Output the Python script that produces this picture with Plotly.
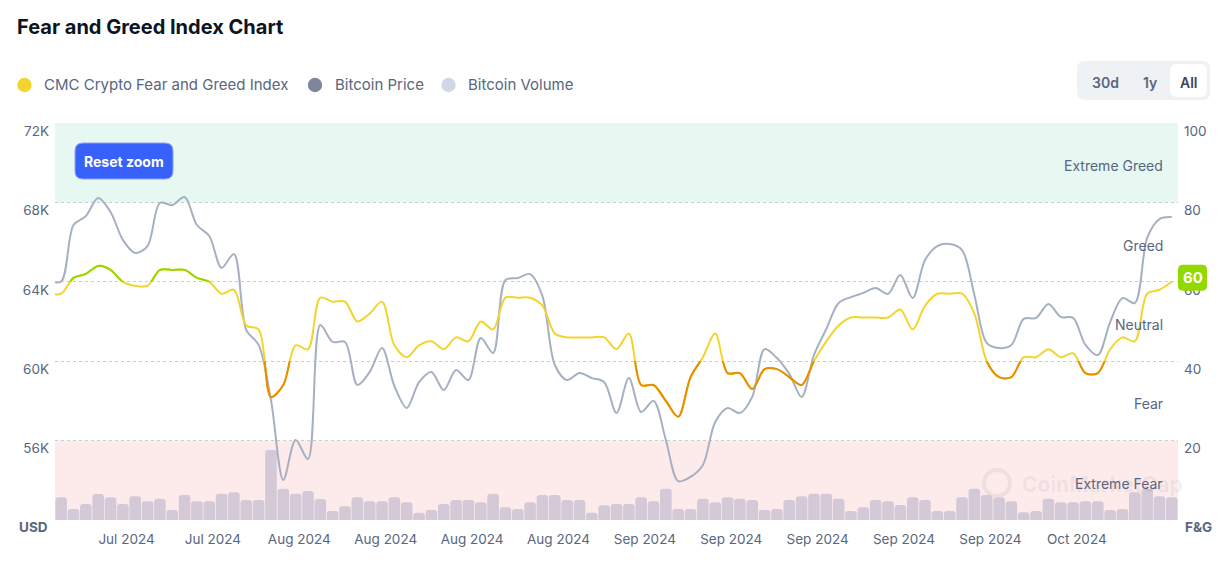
import pandas as pd
import plotly.graph_objects as go

# ---------------- data ----------------
DATES = pd.date_range("2024-07-17", periods=92, freq="D")

PRICE_USD = [64040, 64020, 66860, 67310, 68220, 67520, 66110, 65450, 65800, 67970,
             67870, 68270, 66860, 66310, 64700, 65400, 61570, 60820, 58050, 54020,
             56030, 55070, 61820, 60970, 60970, 58800, 59460, 60660, 58750, 57640,
             58950, 59460, 58550, 59560, 59050, 61170, 60410, 64090, 64190, 64390,
             63280, 59810, 59050, 59410, 59150, 58950, 57390, 59150, 57440, 58000,
             56030, 53960, 54170, 54770, 56940, 57640, 57390, 58200, 60610, 60160,
             59360, 58200, 60310, 61620, 62930, 63230, 63440, 63690, 63390, 64340,
             63180, 65100, 65800, 65900, 65600, 63340, 60920, 60660, 60820, 62130,
             62180, 62880, 62230, 62180, 60820, 60310, 61970, 63180, 62930, 66210,
             67160, 67260]

FEAR_GREED = [57, 57, 61, 62, 64, 63, 60, 59, 59, 63,
              63, 63, 61, 60, 57, 58, 49, 48, 31, 34,
              44, 43, 56, 55, 55, 50, 52, 55, 44, 41,
              44, 45, 43, 46, 45, 50, 48, 56, 56, 56,
              54, 47, 46, 46, 46, 46, 43, 47, 34, 34,
              30, 26, 36, 41, 47, 37, 37, 33, 38, 38,
              36, 34, 40, 45, 49, 51, 51, 51, 51, 53,
              48, 54, 57, 57, 57, 52, 40, 36, 36, 41,
              41, 43, 41, 42, 37, 37, 43, 46, 45, 57,
              58, 60]

VOLUME_BN_USD = [None, 34.1, 16.5, 24, 39, 34.1, 24, 35.6, 28.1, 32,
                 15, 37.5, 28.1, 28.1, 39.5, 41.6, 30, 30, 105, 47,
                 39.5, 43.5, 31.5, 13.5, 20.6, 34.1, 28.1, 28.1, 34.1, 26.6,
                 11, 15, 24, 30, 30, 26.6, 39.5, 19.1, 16.5, 26.6,
                 37.5, 37.5, 30, 30, 11, 22.1, 24, 24, 34.1, 28.1,
                 47, 16.5, 16.5, 32, 26.6, 34.1, 32, 30, 15, 16.5,
                 30, 35.6, 39.5, 39.5, 32, 13.5, 19.1, 30, 28.1, 22.5,
                 34.1, 30, 13.5, 13.5, 34.1, 47, 37.5, 34.1, 28.1, 11.6,
                 13.5, 32, 26.6, 26.6, 28.1, 28.1, 15, 16.5, 41.6, 47,
                 35.6, 34.1]

PRICE_TICKS = [52000, 56000, 60000, 64000, 68000, 72000]
PRICE_TICK_TEXT = ["", "56K", "60K", "64K", "68K", "72K"]
FG_TICKS = [0, 20, 40, 60, 80, 100]
FG_TICK_TEXT = ["", "20", "40", "60", "80", "100"]
WEEK_TICKS = pd.date_range("2024-07-22", "2024-10-07", freq="7D")
ZONE_LABELS = [("Extreme Greed", 90), ("Greed", 70), ("Neutral", 50),
               ("Fear", 30), ("Extreme Fear", 10)]
LEGEND_ITEMS = [("CMC Crypto Fear and Greed Index", "#F3D42F"),
                ("Bitcoin Price", "#7D879B"),
                ("Bitcoin Volume", "#CFD6E4")]
RANGE_BUTTONS = ["30d", "1y", "All"]

# ---------------- styling ----------------
FONT = "Inter, Noto Sans, sans-serif"
TXT = "#58667E"
YELLOW, ORANGE, GREEN = "#F3D42F", "#EA8C00", "#93D900"
L, R, T, B = 55, 50, 123, 56
W, H = 1228 - L - R, 576 - T - B


def fx(X):
    return (X - L) / W


def fy(Y):
    return (T + H - Y) / H


def rrect(x0, y0, x1, y1, r):
    pts = [("M", [(x0 + r, y0)]), ("L", [(x1 - r, y0)]), ("Q", [(x1, y0), (x1, y0 + r)]),
           ("L", [(x1, y1 - r)]), ("Q", [(x1, y1), (x1 - r, y1)]), ("L", [(x0 + r, y1)]),
           ("Q", [(x0, y1), (x0, y1 - r)]), ("L", [(x0, y0 + r)]), ("Q", [(x0, y0), (x0 + r, y0)])]
    s = ""
    for cmd, ps in pts:
        s += cmd + " " + " ".join(f"{fx(a):.5f},{fy(b):.5f}" for a, b in ps) + " "
    return s + "Z"


fig = go.Figure()

fig.add_trace(go.Bar(x=DATES, y=VOLUME_BN_USD, yaxis="y", name="Bitcoin Volume",
                     marker=dict(color="#D4C9D7", line=dict(width=0)),
                     showlegend=False, hoverinfo="skip"))
fig.add_trace(go.Scatter(x=DATES, y=PRICE_USD, yaxis="y2", mode="lines", name="Bitcoin Price",
                         line=dict(color="#A6B0C3", width=2, shape="spline", smoothing=0.9,
                                   simplify=False),
                         showlegend=False, hoverinfo="skip"))
for axis, color in [("y3", YELLOW), ("y4", ORANGE), ("y5", GREEN)]:
    fig.add_trace(go.Scatter(x=DATES, y=FEAR_GREED, yaxis=axis, mode="lines",
                             name="CMC Crypto Fear and Greed Index",
                             line=dict(color=color, width=2, shape="spline", smoothing=0.9,
                                       simplify=False),
                             showlegend=False, hoverinfo="skip"))

tickfont = dict(family=FONT, size=13.5, color=TXT)
fig.update_layout(
    width=1228, height=576,
    margin=dict(l=L, r=R, t=T, b=B),
    paper_bgcolor="white", plot_bgcolor="rgba(0,0,0,0)",
    showlegend=False, bargap=0.06, barcornerradius=3,
    font=dict(family=FONT, color=TXT),
    title=dict(text="Fear and Greed Index Chart", x=17 / 1228, xanchor="left",
               y=1 - 27 / 576, yanchor="middle", xref="container", yref="container",
               font=dict(family=FONT, size=20, color="#0D1421", weight=700)),
    xaxis=dict(type="date", range=["2024-07-17 12:00", "2024-10-16 12:00"],
               showgrid=False, zeroline=False, showline=False, ticks="",
               tickvals=list(WEEK_TICKS), tickformat="%b %Y", ticklabelshift=16,
               ticklabelstandoff=9, tickfont=tickfont),
    yaxis=dict(range=[0, 595.5], visible=False),
    yaxis2=dict(overlaying="y", side="left", range=[52000, 72000],
                tickvals=PRICE_TICKS, ticktext=PRICE_TICK_TEXT,
                showgrid=True, gridcolor="#C9CCD2", griddash="dot", gridwidth=1,
                zeroline=False, showline=False, ticks="", ticklabelshift=8,
                ticklabelstandoff=5, tickfont=tickfont),
    yaxis3=dict(overlaying="y", side="right", range=[0, 100],
                tickvals=FG_TICKS, ticktext=FG_TICK_TEXT, showgrid=False,
                zeroline=False, showline=False, ticks="", ticklabelshift=8,
                ticklabelstandoff=5, tickfont=tickfont),
    yaxis4=dict(domain=[0, 0.4], range=[0, 40], anchor="x", visible=False),
    yaxis5=dict(domain=[0.6, 1], range=[60, 100], anchor="x", visible=False),
)

shapes = [
    dict(type="rect", xref="paper", yref="y3", x0=0, x1=1, y0=80, y1=100,
         fillcolor="#E6F8F1", line=dict(width=0), layer="below"),
    dict(type="rect", xref="paper", yref="y3", x0=0, x1=1, y0=0, y1=20,
         fillcolor="#FDEBEC", line=dict(width=0), layer="below"),
]
annotations = []

# zone labels
for label, val in ZONE_LABELS:
    annotations.append(dict(text=label, xref="paper", yref="y3", x=1, y=val,
                            xanchor="right", yanchor="middle", xshift=-13, yshift=-3,
                            showarrow=False, font=dict(family=FONT, size=14, color=TXT)))

# axis unit labels
annotations.append(dict(text="<b>USD</b>", xref="paper", yref="paper", x=fx(49.5), y=fy(527),
                        xanchor="right", yanchor="middle", showarrow=False,
                        font=dict(family=FONT, size=13.5, color=TXT)))
annotations.append(dict(text="<b>F&G</b>", xref="paper", yref="paper", x=fx(1183), y=fy(527),
                        xanchor="left", yanchor="middle", showarrow=False,
                        font=dict(family=FONT, size=13.5, color=TXT)))

# legend (manual, circle markers)
LEG_Y = 85
legend_pos = [(24.5, 41.5), (315, 332.5), (448.5, 466)]
for (name, color), (cx, tx) in zip(LEGEND_ITEMS, legend_pos):
    shapes.append(dict(type="circle", xref="paper", yref="paper",
                       x0=fx(cx - 7.2), x1=fx(cx + 7.2), y0=fy(LEG_Y + 7.2), y1=fy(LEG_Y - 7.2),
                       fillcolor=color, line=dict(width=0)))
    annotations.append(dict(text=name, xref="paper", yref="paper", x=fx(tx), y=fy(LEG_Y),
                            xanchor="left", yanchor="middle", showarrow=False,
                            font=dict(family=FONT, size=15, color=TXT)))

# range buttons
shapes.append(dict(type="path", xref="paper", yref="paper", path=rrect(1077, 61, 1210, 100, 8),
                   fillcolor="#EFF2F5", line=dict(width=0)))
shapes.append(dict(type="path", xref="paper", yref="paper", path=rrect(1170, 64, 1207, 97, 7),
                   fillcolor="white", line=dict(width=0)))
for label, cx in zip(RANGE_BUTTONS, [1105, 1150, 1189]):
    annotations.append(dict(text=label, xref="paper", yref="paper", x=fx(cx), y=fy(82),
                            xanchor="center", yanchor="middle", showarrow=False,
                            font=dict(family=FONT, size=14,
                                      color="#3E4656" if label == "All" else TXT, weight=600)))

# reset zoom button
shapes.append(dict(type="path", xref="paper", yref="paper", path=rrect(75, 143, 173, 179, 8),
                   fillcolor="#3861FB", line=dict(color="#8EA2F0", width=1)))
annotations.append(dict(text="Reset zoom", xref="paper", yref="paper", x=fx(124), y=fy(161),
                        xanchor="center", yanchor="middle", showarrow=False,
                        font=dict(family=FONT, size=14, color="white", weight=700)))

# watermark
shapes.append(dict(type="circle", xref="paper", yref="paper",
                   x0=fx(984), x1=fx(1010), y0=fy(496), y1=fy(470),
                   line=dict(color="rgba(110,110,130,0.10)", width=4), layer="below"))
annotations.append(dict(text="CoinMarketCap", xref="paper", yref="paper", x=fx(1020), y=fy(484),
                        xanchor="left", yanchor="middle", showarrow=False,
                        font=dict(family=FONT, size=21, color="rgba(110,110,130,0.10)", weight=700)))

# last value badge
last_fg = FEAR_GREED[-1]
yc = 520 - last_fg / 100 * H - 4
shapes.append(dict(type="path", xref="paper", yref="paper",
                   path=rrect(1178, yc - 13, 1207, yc + 13, 5),
                   fillcolor=GREEN, line=dict(width=0)))
annotations.append(dict(text=f"<b>{last_fg}</b>", xref="paper", yref="paper",
                        x=fx(1192.5), y=fy(yc), xanchor="center", yanchor="middle",
                        showarrow=False, font=dict(family=FONT, size=15, color="white")))

fig.update_layout(shapes=shapes, annotations=annotations)
fig.write_html("out.html", config={"displayModeBar": False},
               post_script="document.body.style.margin='0px';")
